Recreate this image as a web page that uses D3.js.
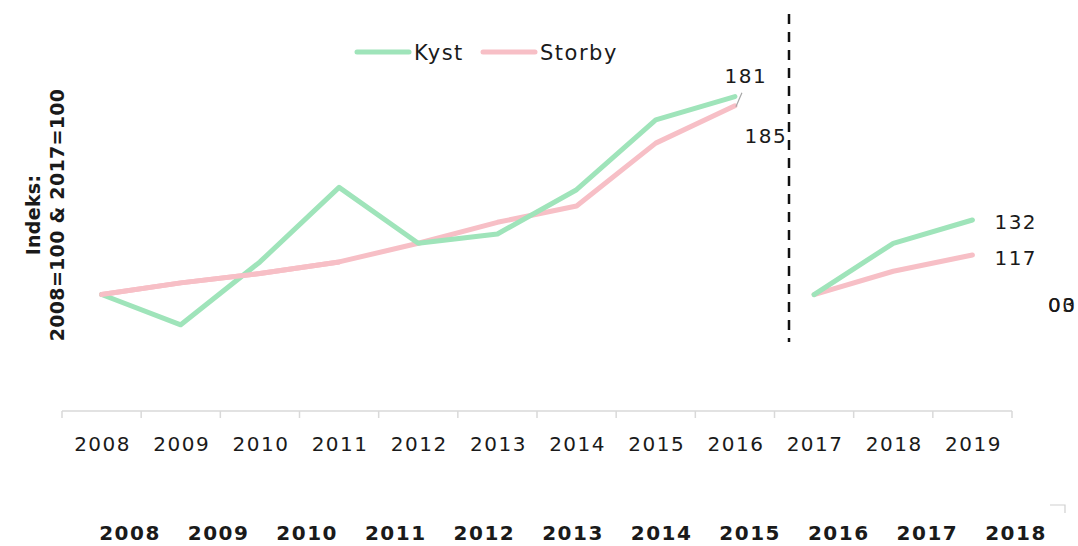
<!doctype html>
<html>
<head>
    <meta charset="UTF-8">
    <title>Kyst og Storby</title>
    <script src="https://d3js.org/d3.v7.min.js"></script>
    <style>
        body { margin: 0; background: #fff; }
        svg text { font-family: "DejaVu Sans", sans-serif; fill: #1a1a1a; letter-spacing: 1.5px; }
    </style>
</head>
<body>
<svg id="chart" width="1078" height="546"></svg>
<script>
    // data
    var years = ["2008", "2009", "2010", "2011", "2012", "2013", "2014", "2015", "2016", "2017", "2018", "2019"];
    var kyst1 = [100, 87, 114, 146, 122, 126, 145, 175, 185];
    var storby1 = [100, 105, 109, 114, 122, 131, 138, 165, 181];
    var kyst2 = [100, 122, 132];
    var storby2 = [100, 110, 117];
    var bottomYears = ["2008", "2009", "2010", "2011", "2012", "2013", "2014", "2015", "2016", "2017", "2018"];

    var green = "#9fe4ba", pink = "#f7bfc6";

    var svg = d3.select("#chart");

    var x = d3.scaleBand().domain(years).range([62, 1012]);
    var y = d3.scaleLinear().domain([50, 220]).range([411, 15]);
    var cx = function (yr) { return x(yr) + x.bandwidth() / 2; };

    // axis line + ticks at band edges
    svg.append("line")
        .attr("x1", 62).attr("x2", 1012)
        .attr("y1", 411).attr("y2", 411)
        .attr("stroke", "#d9d9d9").attr("stroke-width", 1.5);
    var edges = years.map(function (d) { return x(d); }).concat([x.range()[1]]);
    svg.selectAll(".tk").data(edges).enter().append("line")
        .attr("x1", function (d) { return d; }).attr("x2", function (d) { return d; })
        .attr("y1", 411).attr("y2", 418)
        .attr("stroke", "#d9d9d9").attr("stroke-width", 1.5);
    svg.selectAll(".xl").data(years).enter().append("text")
        .attr("x", function (d) { return cx(d) + 1; })
        .attr("y", 451)
        .attr("text-anchor", "middle")
        .attr("font-size", 20)
        .text(function (d) { return d; });

    // dashed divider
    svg.append("line")
        .attr("x1", 789).attr("x2", 789)
        .attr("y1", 14).attr("y2", 342)
        .attr("stroke", "#111").attr("stroke-width", 2.5)
        .attr("stroke-dasharray", "10,8");

    var line = d3.line()
        .x(function (d) { return cx(d.yr); })
        .y(function (d) { return y(d.v); });

    function series(vals, start) {
        return vals.map(function (v, i) { return { yr: years[start + i], v: v }; });
    }

    [[storby1, 0, pink], [storby2, 9, pink], [kyst1, 0, green], [kyst2, 9, green]].forEach(function (s) {
        svg.append("path")
            .datum(series(s[0], s[1]))
            .attr("d", line)
            .attr("fill", "none")
            .attr("stroke", s[2])
            .attr("stroke-width", 5)
            .attr("stroke-linejoin", "round")
            .attr("stroke-linecap", "round");
    });
    // storby start sits over kyst in the reference
    svg.append("path")
        .datum(series(storby1, 0).slice(0, 4))
        .attr("d", line)
        .attr("fill", "none").attr("stroke", pink)
        .attr("stroke-width", 5).attr("stroke-linecap", "round");

    // value labels
    var s16 = cx("2016");
    svg.append("line")
        .attr("x1", s16 + 7).attr("y1", y(181) - 13)
        .attr("x2", s16 + 1).attr("y2", y(181) + 1)
        .attr("stroke", "#a6a6a6").attr("stroke-width", 1.2);
    svg.append("text").attr("x", s16 + 11).attr("y", y(181) - 23)
        .attr("text-anchor", "middle").attr("font-size", 20).text(storby1[8]);
    svg.append("text").attr("x", s16 + 31).attr("y", y(185) + 46)
        .attr("text-anchor", "middle").attr("font-size", 20).text(kyst1[8]);
    svg.append("text").attr("x", cx("2019") + 22).attr("y", y(kyst2[2]) + 9)
        .attr("font-size", 20).text(kyst2[2]);
    svg.append("text").attr("x", cx("2019") + 22).attr("y", y(storby2[2]) + 10)
        .attr("font-size", 20).text(storby2[2]);

    // overlapping clipped labels at the right edge
    svg.append("text").attr("x", 1048).attr("y", 312).attr("font-size", 20).text("00");
    svg.append("text").attr("x", 1048).attr("y", 312).attr("font-size", 20).text("03");

    // legend
    var legend = [["Kyst", green, 357], ["Storby", pink, 483]];
    legend.forEach(function (l) {
        svg.append("line")
            .attr("x1", l[2]).attr("x2", l[2] + 52)
            .attr("y1", 52).attr("y2", 52)
            .attr("stroke", l[1]).attr("stroke-width", 5)
            .attr("stroke-linecap", "round");
        svg.append("text").attr("x", l[2] + 57).attr("y", 60)
            .attr("font-size", 21).text(l[0]);
    });

    // y title
    var yt = svg.append("text")
        .attr("transform", "translate(40,215) rotate(-90)")
        .attr("text-anchor", "middle")
        .attr("font-size", 19)
        .attr("font-weight", "bold")
        .style("letter-spacing", "0.3px");
    yt.append("tspan").attr("x", 0).attr("dy", 0).text("Indeks:");
    yt.append("tspan").attr("x", 0).attr("dy", 24).text("2008=100 & 2017=100");

    // bottom bold year row
    var xb = d3.scalePoint().domain(bottomYears).range([129, 1015]);
    svg.selectAll(".bl").data(bottomYears).enter().append("text")
        .attr("x", function (d) { return xb(d) + 1; })
        .attr("y", 540)
        .attr("text-anchor", "middle")
        .attr("font-size", 20)
        .attr("font-weight", "bold")
        .text(function (d) { return d; });

    // small corner mark
    svg.append("path")
        .attr("d", "M1050,505H1065V513")
        .attr("fill", "none").attr("stroke", "#d0d0d0").attr("stroke-width", 1.2);
</script>
</body>
</html>
